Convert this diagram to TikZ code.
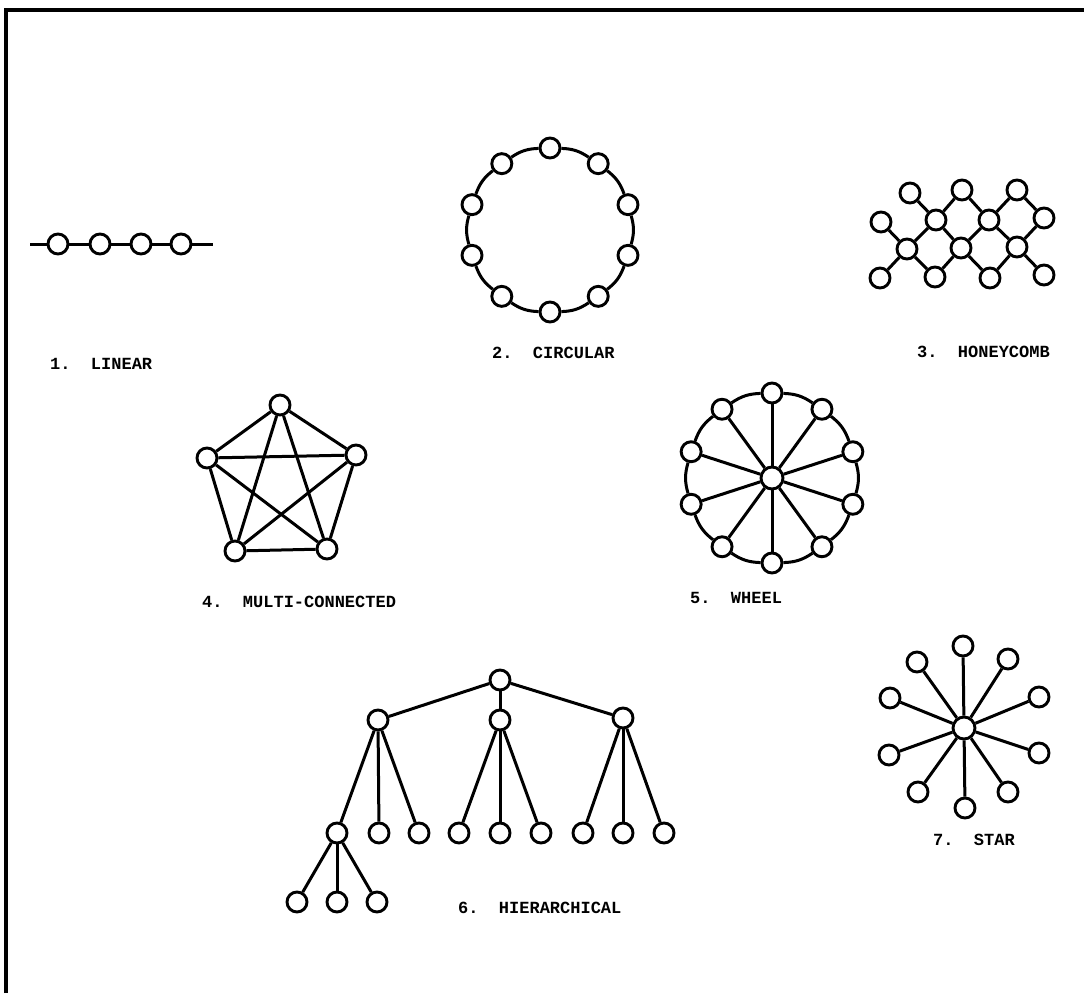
\documentclass[tikz,border=0pt]{standalone}
\usepackage{fontspec}
\newfontfamily\labfont{Liberation Mono}
\begin{document}
\begin{tikzpicture}[x=1pt,y=-1pt,
  nd/.style={circle,draw,fill=white,inner sep=0pt,minimum size=20pt,line width=2.9pt},
  bignd/.style={nd,minimum size=22pt},
  edge/.style={line width=3pt},
  frame/.style={line width=4pt},
  lbl/.style={font=\labfont\bfseries\fontsize{17}{17}\selectfont,anchor=west,inner sep=0pt}]
\useasboundingbox (0,0) rectangle (1084,993);
\draw[frame] (6,993) -- (6,10) -- (1084,10);

% 1. Linear
\coordinate (la) at (30,244);
\coordinate (lb) at (213,244);
\node[nd] (l1) at (58,244) {};
\node[nd] (l2) at (100,244) {};
\node[nd] (l3) at (141,244) {};
\node[nd] (l4) at (181,244) {};
\draw[edge] (la) -- (l1) -- (l2) -- (l3) -- (l4) -- (lb);

% 2. Circular
\foreach \i in {0,...,9} {
  \node[nd] (c\i) at ({550+82*cos(90+36*\i)},{230-82*sin(90+36*\i)}) {};
}
\foreach \i [evaluate=\i as \j using {int(mod(\i+1,10))}] in {0,...,9} {
  \draw[edge] (c\i) to[bend right=16] (c\j);
}

% 3. Honeycomb
\node[nd] (h1) at (910,193) {};
\node[nd] (h2) at (962,190) {};
\node[nd] (h3) at (1017,190) {};
\node[nd] (h4) at (881,222) {};
\node[nd] (h5) at (936,220) {};
\node[nd] (h6) at (989,220) {};
\node[nd] (h7) at (1044,218) {};
\node[nd] (h8) at (907,249) {};
\node[nd] (h9) at (961,248) {};
\node[nd] (h10) at (1017,247) {};
\node[nd] (h11) at (880,278) {};
\node[nd] (h12) at (935,277) {};
\node[nd] (h13) at (990,278) {};
\node[nd] (h14) at (1044,275) {};
\draw[edge] (h1) -- (h5) -- (h2) -- (h6) -- (h3) -- (h7);
\draw[edge] (h4) -- (h8) -- (h5) -- (h9) -- (h6) -- (h10) -- (h7);
\draw[edge] (h11) -- (h8) -- (h12) -- (h9) -- (h13) -- (h10) -- (h14);

% 4. Multi-connected
\node[nd] (m1) at (280,405) {};
\node[nd] (m2) at (207,458) {};
\node[nd] (m3) at (356,455) {};
\node[nd] (m4) at (235,551) {};
\node[nd] (m5) at (327,549) {};
\foreach \a/\b in {1/2,1/3,1/4,1/5,2/3,2/4,2/5,3/4,3/5,4/5} {
  \draw[edge] (m\a) -- (m\b);
}

% 5. Wheel
\node[bignd] (w0) at (772,478) {};
\foreach \i in {0,...,9} {
  \node[nd] (w\i x) at ({772+85*cos(90+36*\i)},{478-85*sin(90+36*\i)}) {};
}
\foreach \i [evaluate=\i as \j using {int(mod(\i+1,10))}] in {0,...,9} {
  \draw[edge] (w\i x) to[bend right=16] (w\j x);
  \draw[edge] (w0) -- (w\i x);
}

% 6. Hierarchical
\node[nd] (r) at (500,680) {};
\node[nd] (a1) at (378,720) {};
\node[nd] (a2) at (500,720) {};
\node[nd] (a3) at (623,718) {};
\node[nd] (b1) at (337,833) {};
\node[nd] (b2) at (379,833) {};
\node[nd] (b3) at (419,833) {};
\node[nd] (b4) at (459,833) {};
\node[nd] (b5) at (500,833) {};
\node[nd] (b6) at (541,833) {};
\node[nd] (b7) at (583,833) {};
\node[nd] (b8) at (623,833) {};
\node[nd] (b9) at (664,833) {};
\node[nd] (d1) at (297,902) {};
\node[nd] (d2) at (337,902) {};
\node[nd] (d3) at (377,902) {};
\draw[edge] (r) -- (a1); \draw[edge] (r) -- (a2); \draw[edge] (r) -- (a3);
\draw[edge] (a1) -- (b1); \draw[edge] (a1) -- (b2); \draw[edge] (a1) -- (b3);
\draw[edge] (a2) -- (b4); \draw[edge] (a2) -- (b5); \draw[edge] (a2) -- (b6);
\draw[edge] (a3) -- (b7); \draw[edge] (a3) -- (b8); \draw[edge] (a3) -- (b9);
\draw[edge] (b1) -- (d1); \draw[edge] (b1) -- (d2); \draw[edge] (b1) -- (d3);

% 7. Star
\node[bignd] (s0) at (964,728) {};
\node[nd] (s1) at (963,646) {};
\node[nd] (s2) at (1008,659) {};
\node[nd] (s3) at (1039,697) {};
\node[nd] (s4) at (1039,753) {};
\node[nd] (s5) at (1008,792) {};
\node[nd] (s6) at (965,808) {};
\node[nd] (s7) at (918,792) {};
\node[nd] (s8) at (889,755) {};
\node[nd] (s9) at (890,698) {};
\node[nd] (s10) at (917,662) {};
\foreach \i in {1,...,10} { \draw[edge] (s0) -- (s\i); }

% Labels
\node[lbl] (t1) at (50,364) {1.\hspace{1.2em}LINEAR};
\node[lbl] (t2) at (492,353) {2.\hspace{1.2em}CIRCULAR};
\node[lbl] (t3) at (917,352) {3.\hspace{1.2em}HONEYCOMB};
\node[lbl] (t4) at (202,602) {4.\hspace{1.2em}MULTI-CONNECTED};
\node[lbl] (t5) at (690,598) {5.\hspace{1.2em}WHEEL};
\node[lbl] (t6) at (458,908) {6.\hspace{1.2em}HIERARCHICAL};
\node[lbl] (t7) at (933,840) {7.\hspace{1.2em}STAR};
\end{tikzpicture}
\end{document}
